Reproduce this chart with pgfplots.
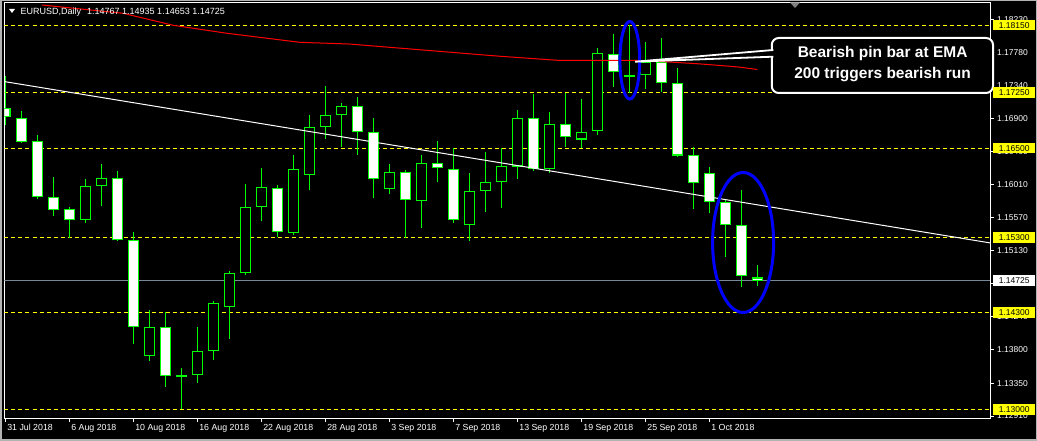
\documentclass[border=0pt]{standalone}
\usepackage{pgfplots}
\pgfplotsset{compat=1.18}
\usepackage{pgfplotstable}
\usepackage{fontspec}
\setmainfont{Liberation Sans}
\newfontfamily\dejavu{DejaVu Sans}
\definecolor{mtgreen}{RGB}{0,255,0}
\definecolor{mtgray}{RGB}{119,136,153}
\definecolor{mtyellow}{RGB}{255,255,0}
\definecolor{mtblue}{RGB}{0,0,255}
\definecolor{mtred}{RGB}{255,0,0}

\pgfplotstableread{
i open high low close
0 1.17035 1.17469 1.16812 1.16915
1 1.16901 1.16999 1.16575 1.16589
2 1.16593 1.16674 1.15824 1.15842
3 1.15842 1.16115 1.15597 1.15668
4 1.15681 1.15713 1.15302 1.15534
5 1.15534 1.16088 1.15498 1.15990
6 1.15990 1.16289 1.15731 1.16097
7 1.16097 1.16195 1.15250 1.15266
8 1.15266 1.15377 1.13876 1.14099
9 1.13711 1.14332 1.13652 1.14099
10 1.14099 1.14300 1.13304 1.13442
11 1.13465 1.13554 1.13005 1.13438
12 1.13456 1.14104 1.13358 1.13778
13 1.13778 1.14452 1.13666 1.14421
14 1.14376 1.14855 1.13943 1.14823
15 1.14823 1.16021 1.14800 1.15713
16 1.15708 1.16236 1.15525 1.15976
17 1.15963 1.16003 1.15315 1.15382
18 1.15369 1.16405 1.15342 1.16218
19 1.16146 1.16946 1.15941 1.16781
20 1.16781 1.17335 1.16629 1.16942
21 1.16942 1.17107 1.16517 1.17062
22 1.17062 1.17187 1.16414 1.16714
23 1.16714 1.16906 1.15838 1.16084
24 1.15950 1.16289 1.15887 1.16177
25 1.16177 1.16209 1.15302 1.15811
26 1.15798 1.16405 1.15436 1.16298
27 1.16298 1.16597 1.16052 1.16231
28 1.16218 1.16499 1.15498 1.15534
29 1.15467 1.16169 1.15261 1.15923
30 1.15923 1.16450 1.15650 1.16043
31 1.16043 1.16504 1.15704 1.16258
32 1.16254 1.17014 1.16093 1.16902
33 1.16902 1.17229 1.16196 1.16218
34 1.16227 1.16987 1.16174 1.16822
35 1.16822 1.17247 1.16522 1.16648
36 1.16616 1.17162 1.16500 1.16715
37 1.16728 1.17850 1.16683 1.17774
38 1.17761 1.18034 1.17323 1.17520
39 1.17479 1.18150 1.17238 1.17452
40 1.17475 1.17922 1.17296 1.17663
41 1.17654 1.17976 1.17260 1.17372
42 1.17372 1.17573 1.16389 1.16402
43 1.16406 1.16513 1.15686 1.16031
44 1.16165 1.16250 1.15637 1.15776
45 1.15776 1.15807 1.15047 1.15467
46 1.15467 1.15941 1.14644 1.14783
47 1.14767 1.14935 1.14653 1.14725
}\ohlc

\begin{document}
\begin{tikzpicture}
\useasboundingbox (0pt,0pt) rectangle (1037pt,441pt);
\fill[black] (0pt,0pt) rectangle (1037pt,441pt);
\draw[gray!60, line width=1.5pt] (0.75pt,0.75pt) rectangle (1036.25pt,440.25pt);
\begin{axis}[
  at={(4.5pt,22.7pt)}, anchor=south west,
  scale only axis, width=985.5pt, height=415.8pt,
  xmin=-0.05, xmax=61.54, ymin=1.128793, ymax=1.184537,
  clip mode=individual,
  axis line style={white, line width=0.8pt},
  tick align=outside, major tick length=3.5pt,
  tick style={white, line width=0.8pt},
  xtick pos=left, ytick pos=right, yticklabel pos=right,
  xtick={0,4,...,44},
  xticklabels={31 Jul 2018,6 Aug 2018,10 Aug 2018,16 Aug 2018,22 Aug 2018,28 Aug 2018,3 Sep 2018,7 Sep 2018,13 Sep 2018,19 Sep 2018,25 Sep 2018,1 Oct 2018},
  xticklabel style={anchor=north west, xshift=-1.5pt, yshift=1pt, text=white, font=\fontsize{8.8}{10}\selectfont},
  ytick={1.12910,1.13350,1.13800,1.14240,1.14690,1.15130,1.15570,1.16010,1.16460,1.16900,1.17340,1.17780,1.18230},
  yticklabel style={anchor=west, text=white, font=\fontsize{8.5}{10}\selectfont,
    /pgf/number format/.cd, fixed, fixed zerofill, precision=5, assume math mode=true},
]
% horizontal levels
\addplot[mtyellow, line width=0.9pt, dash pattern=on 4pt off 3pt, forget plot] coordinates {(-0.05,1.18150) (61.54,1.18150)};
\addplot[mtyellow, line width=0.9pt, dash pattern=on 4pt off 3pt, forget plot] coordinates {(-0.05,1.17250) (61.54,1.17250)};
\addplot[mtyellow, line width=0.9pt, dash pattern=on 4pt off 3pt, forget plot] coordinates {(-0.05,1.16500) (61.54,1.16500)};
\addplot[mtyellow, line width=0.9pt, dash pattern=on 4pt off 3pt, forget plot] coordinates {(-0.05,1.15300) (61.54,1.15300)};
\addplot[mtyellow, line width=0.9pt, dash pattern=on 4pt off 3pt, forget plot] coordinates {(-0.05,1.14300) (61.54,1.14300)};
\addplot[mtyellow, line width=0.9pt, dash pattern=on 4pt off 3pt, forget plot] coordinates {(-0.05,1.13000) (61.54,1.13000)};
\addplot[mtgray, line width=1pt, forget plot] coordinates {(-0.05,1.14725) (61.54,1.14725)};
% upper wicks
\addplot[draw=none, mark=none, forget plot,
  error bars/.cd, y dir=plus, y explicit, error mark=none,
  error bar style={draw=mtgreen, line width=1pt}]
  table[x=i, y expr={max(\thisrow{open},\thisrow{close})},
        y error plus expr={\thisrow{high}-max(\thisrow{open},\thisrow{close})}] {\ohlc};
% lower wicks
\addplot[draw=none, mark=none, forget plot,
  error bars/.cd, y dir=minus, y explicit, error mark=none,
  error bar style={draw=mtgreen, line width=1pt}]
  table[x=i, y expr={min(\thisrow{open},\thisrow{close})},
        y error minus expr={min(\thisrow{open},\thisrow{close})-\thisrow{low}}] {\ohlc};
% body outline
\addplot[draw=none, mark=none, forget plot,
  error bars/.cd, y dir=plus, y explicit, error mark=none,
  error bar style={draw=mtgreen, line width=10.6pt, line cap=butt}]
  table[x=i, y expr={min(\thisrow{open},\thisrow{close})},
        y error plus expr={abs(\thisrow{open}-\thisrow{close})}] {\ohlc};
% bearish fill (white)
\addplot[draw=none, mark=none, forget plot,
  error bars/.cd, y dir=plus, y explicit, error mark=none,
  error bar style={draw=white, line width=8.4pt, line cap=butt}]
  table[x=i, y expr={min(\thisrow{open},\thisrow{close})+0.000145},
        y error plus expr={(\thisrow{open}>\thisrow{close})*max(abs(\thisrow{open}-\thisrow{close})-0.00029,0)}] {\ohlc};
% bullish fill (black)
\addplot[draw=none, mark=none, forget plot,
  error bars/.cd, y dir=plus, y explicit, error mark=none,
  error bar style={draw=black, line width=8.4pt, line cap=butt}]
  table[x=i, y expr={min(\thisrow{open},\thisrow{close})+0.000145},
        y error plus expr={(\thisrow{open}<\thisrow{close})*max(abs(\thisrow{open}-\thisrow{close})-0.00029,0)}] {\ohlc};
% trend line
\addplot[white, line width=1pt, forget plot] coordinates {(-0.05,1.173933) (61.54,1.152308)};
% EMA 200
\addplot[mtred, line width=1pt, forget plot] coordinates {
(2.29,1.18420) (7.36,1.18309) (10.5,1.18148) (13.85,1.18041) (18.4,1.17920) (21.5,1.17897)
(30.9,1.17733) (34.5,1.17679) (39.4,1.17679) (41.5,1.17656) (43.5,1.17629) (44.8,1.17607)
(45.8,1.17589) (47,1.17556)};
% ellipses
\draw[mtblue, line width=3pt] (axis cs:39.03,1.176789) ellipse [x radius=9.9pt, y radius=38.8pt];
\draw[mtblue, line width=3pt] (axis cs:46.11,1.152362) ellipse [x radius=30.5pt, y radius=70pt];
% callout
\draw[white, line width=2pt, fill=black, rounded corners=7pt] (axis cs:47.9,1.179778) rectangle (axis cs:61.73,1.172405);
\fill[black] (axis cs:39.36,1.176601) -- (axis cs:48.15,1.178170) -- (axis cs:48.15,1.177272) -- cycle;
\draw[white, line width=1.8pt] (axis cs:48.0,1.178170) -- (axis cs:39.36,1.176601) -- (axis cs:48.0,1.177272);
\node[text=white, font=\bfseries\fontsize{15.5}{21}\selectfont, align=center] at (axis cs:54.83,1.176293) {Bearish pin bar at EMA\\200 triggers bearish run};
% label anchors
\coordinate (ya) at (axis cs:61.54,1.18150);
\coordinate (yb) at (axis cs:61.54,1.17250);
\coordinate (yc) at (axis cs:61.54,1.16500);
\coordinate (yd) at (axis cs:61.54,1.15300);
\coordinate (ye) at (axis cs:61.54,1.14300);
\coordinate (yf) at (axis cs:61.54,1.13000);
\coordinate (yg) at (axis cs:61.54,1.14725);
\end{axis}
\tikzset{lvl/.style={anchor=west, inner sep=0pt, minimum height=10.5pt, minimum width=42pt, text=black, font=\fontsize{8.5}{10}\selectfont}}
\node[lvl, fill=mtyellow] at ([xshift=3pt]ya) {1.18150};
\node[lvl, fill=mtyellow] at ([xshift=3pt]yb) {1.17250};
\node[lvl, fill=mtyellow] at ([xshift=3pt]yc) {1.16500};
\node[lvl, fill=mtyellow] at ([xshift=3pt]yd) {1.15300};
\node[lvl, fill=mtyellow] at ([xshift=3pt]ye) {1.14300};
\node[lvl, fill=mtyellow] at ([xshift=3pt]yf) {1.13000};
\node[lvl, fill=white] at ([xshift=3pt]yg) {1.14725};
% header
\fill[white] (9pt,432pt) -- (15pt,432pt) -- (12pt,428pt) -- cycle;
\node[anchor=west, inner sep=0pt, text=white, font=\fontsize{9}{10}\selectfont] at (20.5pt,428.5pt) {EURUSD,Daily\hspace{6pt}1.14767 1.14935 1.14653 1.14725};
\fill[gray] (790pt,438.5pt) -- (800pt,438.5pt) -- (795pt,433pt) -- cycle;
\end{tikzpicture}
\end{document}
